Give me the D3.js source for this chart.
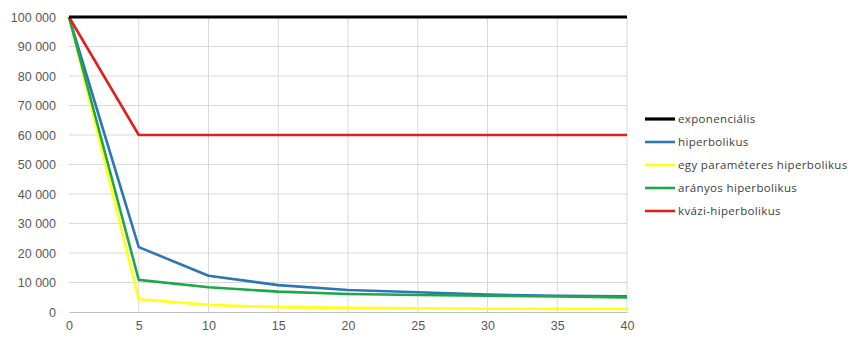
<!DOCTYPE html>
<html>
<head>
<meta charset="utf-8">
<script src="https://cdn.jsdelivr.net/npm/d3@7"></script>
<style>
  body { margin: 0; background: #fff; }
  svg { display: block; font-family: "Open Sans", "Liberation Sans", sans-serif; }
</style>
</head>
<body>
<svg id="chart" width="848" height="338"></svg>
<script>
// Time points on the x axis
const periods = [0, 5, 10, 15, 20, 25, 30, 35, 40];

// Series values for each time point
const exponencialis = [100000, 100000, 100000, 100000, 100000, 100000, 100000, 100000, 100000];
const hiperbolikus = [100000, 22000, 12300, 9100, 7450, 6700, 5900, 5500, 5300];
const egyParameteres = [100000, 4300, 2400, 1650, 1400, 1250, 1100, 1050, 1000];
const aranyos = [100000, 10900, 8400, 6900, 6100, 5750, 5500, 5250, 4950];
const kvazi = [100000, 60000, 60000, 60000, 60000, 60000, 60000, 60000, 60000];

const seriesNames = ["exponenciális", "hiperbolikus", "egy paraméteres hiperbolikus", "arányos hiperbolikus", "kvázi-hiperbolikus"];
const seriesColors = ["#000000", "#2e75b6", "#ffff1a", "#1ea64f", "#e0201f"];
const seriesValues = [exponencialis, hiperbolikus, egyParameteres, aranyos, kvazi];

const yTicks = [0, 10000, 20000, 30000, 40000, 50000, 60000, 70000, 80000, 90000, 100000];
const xTicks = [0, 5, 10, 15, 20, 25, 30, 35, 40];

const svg = d3.select("#chart");
const x = d3.scaleLinear().domain([0, 40]).range([69, 627]);
const y = d3.scaleLinear().domain([0, 100000]).range([312, 17]);

const fmt = v => d3.format(",")(v).replace(/,/g, " ");

// Horizontal gridlines
svg.append("g")
  .selectAll("line").data(yTicks.filter(d => d > 0)).join("line")
  .attr("x1", x(0)).attr("x2", x(40))
  .attr("y1", d => y(d)).attr("y2", d => y(d))
  .attr("stroke", "#d9d9d9").attr("stroke-width", 1);

// Vertical gridlines
svg.append("g")
  .selectAll("line").data(xTicks.filter(d => d > 0)).join("line")
  .attr("x1", d => x(d)).attr("x2", d => x(d))
  .attr("y1", y(100000)).attr("y2", y(0))
  .attr("stroke", "#d9d9d9").attr("stroke-width", 1);

// Y axis labels
const yAxis = d3.axisLeft(y).tickValues(yTicks).tickFormat(fmt).tickSize(0).tickPadding(13);
const gy = svg.append("g").attr("transform", `translate(${x(0)},0)`).call(yAxis);
gy.select(".domain").remove();
gy.selectAll("text").attr("fill", "#595959").style("font-size", "12.5px");

// X axis
const xAxis = d3.axisBottom(x).tickValues(xTicks).tickSize(0).tickPadding(9);
const gx = svg.append("g").attr("transform", `translate(0,${y(0)})`).call(xAxis);
gx.select(".domain").attr("stroke", "#bfbfbf");
gx.selectAll("text").attr("fill", "#595959").style("font-size", "12.5px");

// Series lines
const line = d3.line().x((d, i) => x(periods[i])).y(d => y(d));
// Draw so the black line sits on top at the upper edge
const order = [1, 2, 3, 4, 0];
svg.append("g")
  .selectAll("path").data(order).join("path")
  .attr("d", i => line(seriesValues[i]))
  .attr("fill", "none")
  .attr("stroke", i => seriesColors[i])
  .attr("stroke-width", i => i === 0 ? 3 : 2.6)
  .attr("stroke-linejoin", "round");

// Legend
const legend = svg.append("g").attr("transform", "translate(645,119)");
const item = legend.selectAll("g").data(seriesNames).join("g")
  .attr("transform", (d, i) => `translate(0,${i * 23})`);
item.append("line")
  .attr("x1", 0).attr("x2", 30).attr("y1", 0).attr("y2", 0)
  .attr("stroke", (d, i) => seriesColors[i]).attr("stroke-width", (d, i) => i === 0 ? 3.2 : 2.6);
item.append("text")
  .attr("x", 33).attr("y", 0).attr("dy", "0.35em")
  .attr("fill", "#404040").style("font-size", "11.5px").style("letter-spacing", "0.35px")
  .text(d => d);
</script>
</body>
</html>
